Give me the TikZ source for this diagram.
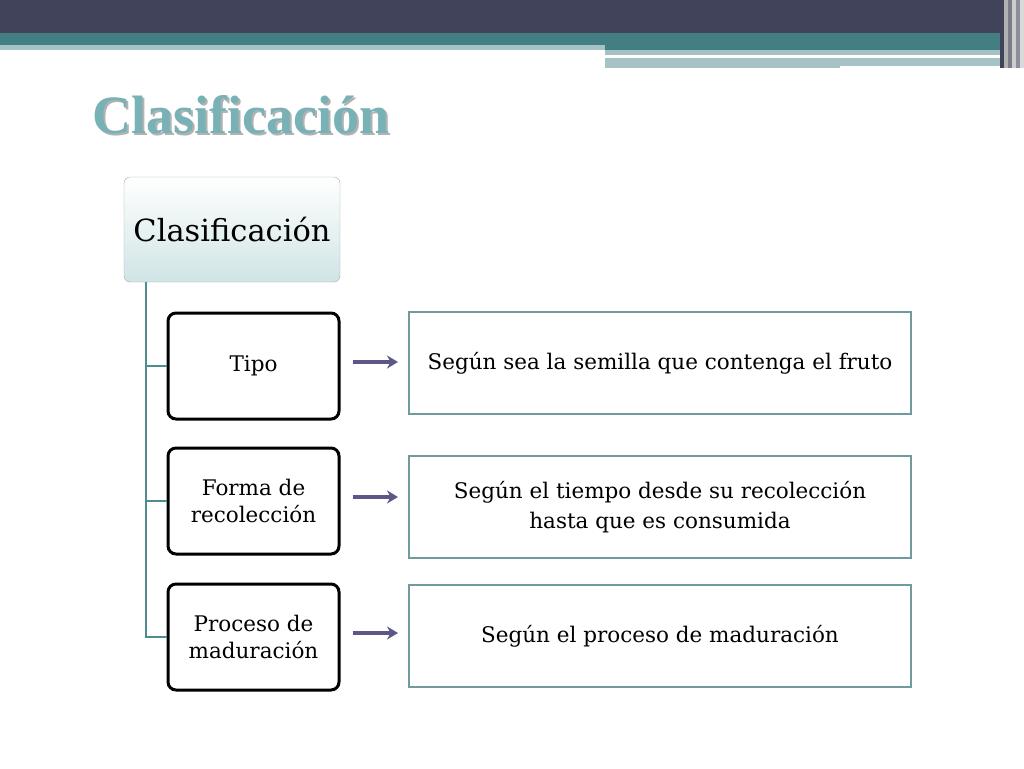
\documentclass[tikz,border=0pt]{standalone}
\usepackage{fontspec}
\setmainfont{DejaVu Serif}
\newfontfamily\titlefont{Liberation Serif}
\usetikzlibrary{positioning}
\usetikzlibrary{arrows.meta}
\definecolor{bandDark}{HTML}{41435A}
\definecolor{bandTeal}{HTML}{437F82}
\definecolor{bandLight}{HTML}{A6C2C5}
\definecolor{titleTeal}{HTML}{78B2B6}
\definecolor{treeTeal}{HTML}{4F8C90}
\definecolor{arrowPurple}{HTML}{5B5887}
\definecolor{descBorder}{HTML}{6F9A9E}

\begin{document}
\begin{tikzpicture}[
  x=1pt,y=-1pt,
  root/.style={draw=gray!70,rounded corners=6pt,top color=white,bottom color=titleTeal!35,
    minimum width=216pt,minimum height=105pt,font=\fontsize{30.5}{34}\selectfont},
  level/.style={draw=black,line width=3pt,rounded corners=8pt,fill=white,
    minimum width=171pt,minimum height=106pt,align=center,font=\fontsize{21.5}{27}\selectfont},
  desc/.style={draw=descBorder,line width=2pt,fill=white,
    minimum width=502pt,minimum height=102pt,align=center,font=\fontsize{21.5}{30}\selectfont},
  flow/.style={-{Stealth[length=11pt,width=13pt]},draw=arrowPurple,fill=arrowPurple,line width=3.5pt},
  branch/.style={treeTeal,line width=2pt}]

  \useasboundingbox (0,0) rectangle (1024,768);
  % header bands
  \fill[bandDark] (0,0) rectangle (1000,33);
  \fill[bandTeal] (0,33) rectangle (1000,45);
  \fill[bandLight] (0,45) rectangle (605,50);
  \fill[bandTeal] (605,45) rectangle (1000,50);
  \fill[bandLight] (605,50) rectangle (1000,55);
  \fill[bandLight] (605,58) rectangle (1000,68);
  \fill[white] (840,66) rectangle (1000,68);
  \foreach \xx/\cc in {1000/bandDark,1004/gray!60,1008/bandDark!70,1012/gray!40,1016/bandDark!60,1020/gray!30}
    \fill[\cc] (\xx,0) rectangle +(4,68);

  \node[font=\titlefont\bfseries\fontsize{54}{58}\selectfont,text=gray!60] at (243,117) {Clasificación};
  \node[font=\titlefont\bfseries\fontsize{54}{58}\selectfont,text=titleTeal] (title) at (241,115) {Clasificación};

  \node[root] (clasif) at (232,229.5) {Clasificación};
  \node[level] (tipo) at (253.5,366) {Tipo};
  \node[level] (forma) at (253.5,501) {Forma de\\recolección};
  \node[level] (proceso) at (253.5,637) {Proceso de\\maduración};

  \node[desc] (dtipo) at (660,363) {Según sea la semilla que contenga el fruto};
  \node[desc] (dforma) at (660,507) {Según el tiempo desde su recolección\\hasta que es consumida};
  \node[desc] (dproceso) at (660,636) {Según el proceso de maduración};

  \coordinate (trunk) at (146,282);
  \draw[branch] (trunk) |- (proceso.west);
  \draw[branch] (trunk |- tipo.west) -- (tipo.west);
  \draw[branch] (trunk |- forma.west) -- (forma.west);

  \draw[flow] ([xshift=12pt,yshift=4pt]tipo.east) -- ([xshift=-10pt,yshift=4pt]dtipo.west |- tipo.east);
  \draw[flow] ([xshift=12pt,yshift=4pt]forma.east) -- ([xshift=-10pt,yshift=4pt]dforma.west |- forma.east);
  \draw[flow] ([xshift=12pt,yshift=4pt]proceso.east) -- ([xshift=-10pt,yshift=4pt]dproceso.west |- proceso.east);
\end{tikzpicture}
\end{document}
